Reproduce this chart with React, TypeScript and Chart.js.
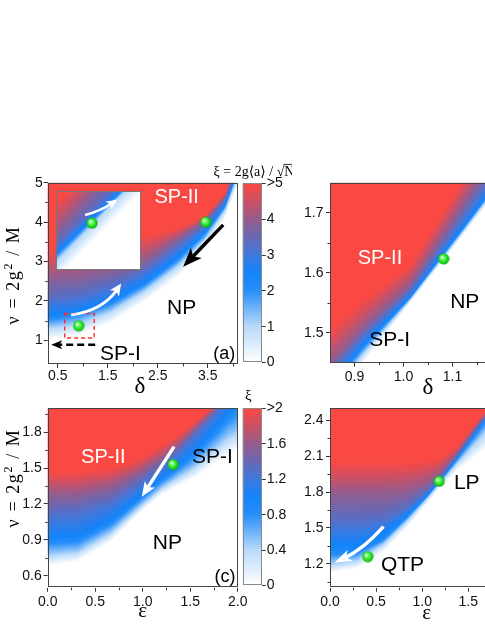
import React, { useEffect, useRef } from 'react';
import { Chart, registerables } from 'chart.js';
Chart.register(...registerables);

// ---------------- colour map (fraction of colour-bar range -> rgb) ----------------
const cmapStops = [0, 0.2, 0.4, 0.5, 0.6, 0.7, 0.8, 0.9, 1];
const cmapColors = [
  [255, 255, 255], [185, 218, 250], [40, 142, 250], [18, 132, 250], [62, 120, 222],
  [105, 104, 180], [150, 92, 140], [205, 80, 100], [250, 72, 66],
];

// ---------------- panel (a): delta vs nu, xi up to 5 ----------------
const aTicksX = [0.5, 1.5, 2.5, 3.5];
const aMinorX = [1, 2, 3, 4];
const aTicksY = [1, 2, 3, 4, 5];
const aMinorY = [1.5, 2.5, 3.5, 4.5];
const aXi = [0, 1, 2.5, 3.3, 4, 5];
const aX = [0.2, 0.9, 1.57, 2.24, 2.91, 3.45, 3.85, 4.2];
const aL0 = [1.0, 1.1, 1.45, 1.98, 2.62, 3.32, 4.1, 5.3];
const aL1 = [1.28, 1.38, 1.72, 2.24, 2.88, 3.56, 4.3, 5.5];
const aL2 = [1.62, 1.74, 2.02, 2.48, 3.12, 3.76, 4.45, 5.65];
const aL3 = [2.05, 2.15, 2.4, 2.78, 3.4, 3.93, 4.55, 5.8];
const aL4 = [2.6, 2.7, 2.85, 3.05, 3.6, 4.05, 4.65, 5.9];
const aL5 = [3.3, 3.4, 3.5, 3.65, 3.85, 4.15, 4.75, 6.0];
const aDots = [{ x: 0.92, y: 1.37 }, { x: 3.46, y: 4.0 }];
const aLabels = [
  { x: 2.88, y: 4.66, t: 'SP-II' }, { x: 2.98, y: 1.84, t: 'NP' },
  { x: 1.755, y: 0.68, t: 'SP-I' }, { x: 3.83, y: 0.68, t: '(a)' },
];
const aArrowCurve = [[0.77, 1.64], [1.4, 1.76], [1.77, 2.44]];
const aArrowBlack = [[3.81, 3.93], [3.01, 2.87]];
const aArrowDash = [[1.25, 0.89], [0.37, 0.89]];
const aBox = [0.64, 1.06, 1.23, 1.68];

// inset of (a) (normalised coordinates)
const iX = [-0.1, 1.1];
const iXi = [0, 1, 2.5, 3.3, 4, 5];
const iL0 = [-0.231, 1.089];
const iL1 = [-0.01, 1.31];
const iL2 = [0.112, 1.36];
const iL3 = [0.2, 1.45];
const iL4 = [0.38, 1.81];
const iL5 = [0.76, 1.96];
const iDots = [{ x: 0.424, y: 0.593 }];
const iArrow = [[0.343, 0.695], [0.53, 0.75], [0.721, 0.893]];

// colour bars
const cbATicks = [0, 1, 2, 3, 4, 5];
const cbCTicks = [0, 0.4, 0.8, 1.2, 1.6, 2.0];

// ---------------- panel (b) ----------------
const bTicksX = [0.9, 1.0, 1.1, 1.2];
const bMinorX = [0.95, 1.05, 1.15];
const bTicksY = [1.5, 1.6, 1.7];
const bMinorY = [1.55, 1.65];
const bXi = [0, 1, 2.5, 3.3, 4, 5];
const bX = [0.8, 0.918, 1.014, 1.11, 1.205, 1.25];
const bL0 = [1.327, 1.45, 1.55, 1.65, 1.75, 1.797];
const bL1 = [1.345, 1.464, 1.555, 1.656, 1.758, 1.806];
const bL2 = [1.367, 1.48, 1.56, 1.663, 1.766, 1.815];
const bL3 = [1.387, 1.495, 1.57, 1.68, 1.79, 1.841];
const bL4 = [1.407, 1.51, 1.581, 1.7, 1.818, 1.872];
const bL5 = [1.467, 1.555, 1.613, 1.74, 1.87, 1.927];
const bDots = [{ x: 1.082, y: 1.623 }];
const bLabels = [
  { x: 0.952, y: 1.626, t: 'SP-II' }, { x: 1.125, y: 1.552, t: 'NP' }, { x: 0.972, y: 1.489, t: 'SP-I' },
];

// ---------------- panel (c): epsilon vs nu, xi up to 2 ----------------
const cTicksX = [0, 0.5, 1.0, 1.5, 2.0];
const cMinorX = [0.25, 0.75, 1.25, 1.75];
const cTicksY = [0.6, 0.9, 1.2, 1.5, 1.8];
const cMinorY = [0.75, 1.05, 1.35, 1.65, 1.95];
const cXi = [0, 0.5, 1.0, 1.3, 1.6, 2.0];
const cX = [-0.05, 0.32, 0.67, 0.95, 1.2, 1.375, 1.55, 1.73, 1.9, 2.05];
const cL0 = [0.67, 0.72, 0.89, 1.11, 1.28, 1.35, 1.42, 1.52, 1.61, 1.68];
const cL1 = [0.78, 0.81, 0.97, 1.17, 1.34, 1.43, 1.52, 1.65, 1.77, 1.84];
const cL2 = [0.92, 0.93, 1.07, 1.25, 1.42, 1.53, 1.65, 1.81, 1.97, 2.1];
const cL3 = [1.11, 1.14, 1.22, 1.36, 1.51, 1.64, 1.78, 1.93, 2.08, 2.2];
const cL4 = [1.28, 1.29, 1.35, 1.46, 1.58, 1.69, 1.83, 1.97, 2.12, 2.25];
const cL5 = [1.47, 1.47, 1.5, 1.57, 1.69, 1.78, 1.89, 2.01, 2.15, 2.3];
const cDots = [{ x: 1.32, y: 1.53 }];
const cLabels = [
  { x: 0.585, y: 1.6, t: 'SP-II' }, { x: 1.735, y: 1.6, t: 'SP-I' },
  { x: 1.26, y: 0.88, t: 'NP' }, { x: 1.866, y: 0.6, t: '(c)' },
];
const cArrow = [[1.33, 1.68], [0.99, 1.26]];

// ---------------- panel (d) ----------------
const dTicksX = [0, 0.5, 1.0, 1.5, 2.0];
const dMinorX = [0.25, 0.75, 1.25, 1.75];
const dTicksY = [1.2, 1.5, 1.8, 2.1, 2.4];
const dMinorY = [1.05, 1.35, 1.65, 1.95, 2.25];
const dXi = [0, 0.4, 0.9, 1.3, 1.6, 2.0];
const dX = [-0.05, 0.29, 0.58, 0.83, 1.05, 1.185, 1.37, 1.55, 1.7, 1.8];
const dL0 = [1.12, 1.16, 1.3, 1.5, 1.7, 1.83, 1.97, 2.08, 2.16, 2.2];
const dL1 = [1.18, 1.22, 1.36, 1.55, 1.74, 1.865, 2.03, 2.18, 2.3, 2.37];
const dL2 = [1.3, 1.3, 1.41, 1.59, 1.765, 1.885, 2.07, 2.26, 2.42, 2.5];
const dL3 = [1.55, 1.55, 1.57, 1.66, 1.8, 1.905, 2.09, 2.28, 2.44, 2.53];
const dL4 = [1.8, 1.8, 1.8, 1.81, 1.87, 1.95, 2.12, 2.31, 2.46, 2.56];
const dL5 = [2.05, 2.05, 2.05, 2.05, 2.06, 2.08, 2.17, 2.35, 2.5, 2.6];
const dDots = [{ x: 0.41, y: 1.26 }, { x: 1.185, y: 1.89 }];
const dLabels = [{ x: 1.483, y: 1.88, t: 'LP' }, { x: 0.786, y: 1.194, t: 'QTP' }];
const dArrow = [[0.58, 1.51], [0.36, 1.32], [0.05, 1.21]];

// ---------------- helpers ----------------
const SANS = '"Liberation Sans", Arial, Helvetica, sans-serif';
const SERIF = '"Liberation Serif", "DejaVu Serif", "Times New Roman", serif';

function interp(xs: number[], ys: number[], x: number) {
  const n = xs.length;
  let i = 0;
  if (x <= xs[0]) i = 0;
  else if (x >= xs[n - 1]) i = n - 2;
  else while (x > xs[i + 1]) i++;
  const t = (x - xs[i]) / (xs[i + 1] - xs[i]);
  return ys[i] + t * (ys[i + 1] - ys[i]);
}
function cmap(f: number) {
  f = Math.max(0, Math.min(1, f));
  let i = 0;
  while (i < cmapStops.length - 2 && f > cmapStops[i + 1]) i++;
  const t = (f - cmapStops[i]) / (cmapStops[i + 1] - cmapStops[i]);
  const a = cmapColors[i], b = cmapColors[i + 1];
  return [a[0] + t * (b[0] - a[0]), a[1] + t * (b[1] - a[1]), a[2] + t * (b[2] - a[2])];
}
function xiAt(Y: number, ys: number[], xis: number[]) {
  if (Y <= ys[0]) return 0;
  const n = ys.length;
  if (Y >= ys[n - 1]) return xis[n - 1];
  let k = 0;
  while (Y > ys[k + 1]) k++;
  const d = ys[k + 1] - ys[k];
  const t = d > 1e-9 ? (Y - ys[k]) / d : 1;
  return xis[k] + t * (xis[k + 1] - xis[k]);
}

function drawHeat(chart: any, heat: any) {
  const { ctx, chartArea: ca } = chart;
  const sx = chart.scales.x, sy = chart.scales.y;
  const L = Math.floor(ca.left), T = Math.floor(ca.top);
  const W = Math.ceil(ca.right) - L, H = Math.ceil(ca.bottom) - T;
  const off = document.createElement('canvas');
  off.width = W; off.height = H;
  const octx = off.getContext('2d')!;
  const img = octx.createImageData(W, H);
  const Ys: number[] = [];
  for (let j = 0; j < H; j++) Ys.push(sy.getValueForPixel(T + j + 0.5));
  for (let i = 0; i < W; i++) {
    let ly: number[] | null = null;
    if (heat.levels) {
      const X = sx.getValueForPixel(L + i + 0.5);
      ly = heat.levels.map((l: number[]) => interp(heat.X, l, X));
      for (let k = 1; k < ly!.length; k++) if (ly![k] < ly![k - 1]) ly![k] = ly![k - 1];
    }
    for (let j = 0; j < H; j++) {
      const v = ly ? xiAt(Ys[j], ly, heat.xis) : Ys[j];
      const c = cmap(v / heat.max);
      const o = (j * W + i) * 4;
      img.data[o] = c[0]; img.data[o + 1] = c[1]; img.data[o + 2] = c[2]; img.data[o + 3] = 255;
    }
  }
  octx.putImageData(img, 0, 0);
  ctx.save();
  ctx.beginPath();
  ctx.rect(ca.left, ca.top, ca.right - ca.left, ca.bottom - ca.top);
  ctx.clip();
  ctx.drawImage(off, L, T);
  ctx.restore();
}

function drawArrow(ctx: any, pts: number[][], color: string, lw: number, hl: number, hw: number, dash?: number[]) {
  const tip = pts[pts.length - 1], prev = pts[pts.length - 2];
  let dx = tip[0] - prev[0], dy = tip[1] - prev[1];
  const d = Math.hypot(dx, dy); dx /= d; dy /= d;
  const bx = tip[0] - dx * hl, by = tip[1] - dy * hl;
  ctx.save();
  ctx.strokeStyle = color; ctx.fillStyle = color; ctx.lineWidth = lw; ctx.lineCap = 'butt';
  ctx.setLineDash(dash || []);
  ctx.beginPath();
  ctx.moveTo(pts[0][0], pts[0][1]);
  const ex = bx + dx * hl * 0.35, ey = by + dy * hl * 0.35;
  if (pts.length === 3) ctx.quadraticCurveTo(pts[1][0], pts[1][1], ex, ey);
  else ctx.lineTo(ex, ey);
  ctx.stroke();
  ctx.setLineDash([]);
  ctx.beginPath();
  ctx.moveTo(tip[0], tip[1]);
  ctx.lineTo(bx - dy * hw / 2, by + dx * hw / 2);
  ctx.lineTo(bx + dx * hl * 0.25, by + dy * hl * 0.25);
  ctx.lineTo(bx + dy * hw / 2, by - dx * hw / 2);
  ctx.closePath();
  ctx.fill();
  ctx.restore();
}

type Part = { t: string; size: number; dy?: number; over?: boolean };
function drawRich(ctx: any, parts: Part[], cx: number, cy: number, rot: number, spacing: number) {
  ctx.save();
  ctx.translate(cx, cy);
  if (rot) ctx.rotate(rot);
  ctx.letterSpacing = spacing + 'px';
  let total = 0;
  const ws = parts.map((p) => { ctx.font = `${p.size}px ${SERIF}`; const w = ctx.measureText(p.t).width; total += w; return w; });
  let x = -total / 2;
  const base = parts[0].size * 0.33;
  ctx.fillStyle = '#000'; ctx.textAlign = 'left'; ctx.textBaseline = 'alphabetic';
  parts.forEach((p, i) => {
    ctx.font = `${p.size}px ${SERIF}`;
    ctx.fillText(p.t, x, base + (p.dy || 0));
    if (p.over) {
      ctx.strokeStyle = '#000'; ctx.lineWidth = 0.8;
      ctx.beginPath();
      ctx.moveTo(x - 1, base - p.size * 0.8);
      ctx.lineTo(x + ws[i] - spacing, base - p.size * 0.8);
      ctx.stroke();
    }
    x += ws[i];
  });
  ctx.letterSpacing = '0px';
  ctx.restore();
}

function makeBall() {
  const c = document.createElement('canvas');
  c.width = 12; c.height = 12;
  const g = c.getContext('2d')!;
  const grd = g.createRadialGradient(4.4, 4.2, 0.4, 6, 6, 6);
  grd.addColorStop(0, '#f2fff2');
  grd.addColorStop(0.25, '#70ff70');
  grd.addColorStop(0.7, '#1ad81a');
  grd.addColorStop(1, '#0c9c0c');
  g.fillStyle = grd;
  g.beginPath(); g.arc(6, 6, 5.6, 0, Math.PI * 2); g.fill();
  return c;
}

// ---------------- chart builder ----------------
function buildConfig(p: any, ball: HTMLCanvasElement) {
  const [cl, ct, cw, ch] = p.canvas;
  const [al, at, ar, ab] = p.area;
  const tickFont = { family: SANS, size: 14 };
  const plugin = {
    id: 'panelDeco',
    beforeDatasetsDraw(chart: any) {
      const { ctx } = chart;
      const sx = chart.scales.x, sy = chart.scales.y;
      if (p.heat) drawHeat(chart, p.heat);
      const X = (v: number) => sx.getPixelForValue(v);
      const Y = (v: number) => sy.getPixelForValue(v);
      (p.boxes || []).forEach((b: number[]) => {
        ctx.save();
        ctx.strokeStyle = '#ff2a2a'; ctx.lineWidth = 1.4; ctx.setLineDash([4, 3]);
        ctx.strokeRect(X(b[0]), Y(b[3]), X(b[2]) - X(b[0]), Y(b[1]) - Y(b[3]));
        ctx.restore();
      });
      (p.arrows || []).forEach((a: any) => {
        drawArrow(ctx, a.pts.map((q: number[]) => [X(q[0]), Y(q[1])]), a.color, a.lw, a.hl, a.hw, a.dash);
      });
      (p.labels || []).forEach((l: any) => {
        ctx.save();
        const isTag = l.t.startsWith('(');
        ctx.font = `${isTag ? 18 : l.t === 'SP-II' ? 20 : 21}px ${SANS}`;
        ctx.fillStyle = l.t === 'SP-II' ? '#ffffff' : '#000000';
        ctx.textAlign = 'center'; ctx.textBaseline = 'middle';
        ctx.fillText(l.t, X(l.x), Y(l.y) + 1);
        ctx.restore();
      });
    },
    afterDraw(chart: any) {
      const { ctx, chartArea: ca } = chart;
      const sx = chart.scales.x, sy = chart.scales.y;
      ctx.save();
      ctx.strokeStyle = '#333'; ctx.lineWidth = 1;
      (p.xMinor || []).forEach((v: number) => {
        const px = Math.round(sx.getPixelForValue(v)) + 0.5;
        ctx.beginPath(); ctx.moveTo(px, ca.bottom); ctx.lineTo(px, ca.bottom + 2.5); ctx.stroke();
      });
      (p.yMinor || []).forEach((v: number) => {
        const py = Math.round(sy.getPixelForValue(v)) + 0.5;
        ctx.beginPath(); ctx.moveTo(ca.left - 2.5, py); ctx.lineTo(ca.left, py); ctx.stroke();
      });
      ctx.strokeStyle = p.frameColor || '#444';
      ctx.strokeRect(Math.round(ca.left) + 0.5, Math.round(ca.top) + 0.5, Math.round(ca.right - ca.left) - 1, Math.round(ca.bottom - ca.top) - 1);
      ctx.restore();
      (p.titles || []).forEach((tt: any) => drawRich(ctx, tt.parts, tt.x - cl, tt.y - ct, tt.rot || 0, tt.sp || 0));
      // x tick labels, placed by the x scale (drawn last)
      if (p.xTicks && !p.hideAxes && !p.cbar) {
        ctx.save();
        ctx.letterSpacing = '0px';
        ctx.font = `14px ${SANS}`;
        ctx.fillStyle = '#111';
        ctx.textAlign = 'center';
        ctx.textBaseline = 'top';
        p.xTicks.forEach((v: number) => {
          ctx.fillText(p.xFmt(v), sx.getPixelForValue(v), ca.bottom + p.xLabelOff);
        });
        ctx.restore();
      }
    },
  };
  const hide = !!p.hideAxes;
  const axisCommon = (ticks: number[], fmt: any, pad: number, showLabels: boolean) => ({
    type: 'linear',
    afterBuildTicks: (s: any) => { s.ticks = ticks.map((v) => ({ value: v })); },
    ticks: { display: showLabels, callback: (v: any) => fmt(Number(v)), font: tickFont, color: '#111', padding: pad, autoSkip: false, maxRotation: 0 },
    grid: { display: true, drawOnChartArea: false, drawTicks: true, tickLength: 4, tickColor: '#333', tickWidth: 1 },
    border: { display: false },
  });
  let scales: any;
  if (p.cbar) {
    scales = {
      x: { type: 'linear', display: false, min: 0, max: 1 },
      y: {
        ...axisCommon(p.yTicks, p.yFmt, 1, true), position: 'right', min: p.y[0], max: p.y[1],
        afterFit: (s: any) => { s.width = cl + cw - ar; },
      },
    };
  } else {
    scales = {
      x: {
        ...axisCommon(p.xTicks || [], p.xFmt, 0, false), min: p.x[0], max: p.x[1], display: !hide,
        afterFit: (s: any) => { s.height = ct + ch - ab; },
      },
      y: {
        ...axisCommon(p.yTicks || [], p.yFmt, p.yPad, true), min: p.y[0], max: p.y[1], display: !hide,
        afterFit: (s: any) => { s.width = al - cl; },
      },
    };
  }
  const padding = p.cbar
    ? { left: al - cl, top: at - ct, right: 0, bottom: ct + ch - ab }
    : hide
      ? { left: al - cl, top: at - ct, right: cl + cw - ar, bottom: ct + ch - ab }
      : { left: 0, top: at - ct, right: cl + cw - ar, bottom: 0 };
  return {
    type: 'scatter',
    data: {
      datasets: [{
        data: p.dots || [],
        pointStyle: ball,
        pointRadius: 6,
        showLine: false,
      }],
    },
    options: {
      responsive: false,
      animation: false,
      devicePixelRatio: 1,
      events: [],
      layout: { padding },
      plugins: { legend: { display: false }, tooltip: { enabled: false } },
      scales,
    },
    plugins: [plugin],
  };
}

const f1 = (v: number) => v.toFixed(1);
const nuTitle = (x: number, y: number) => ({
  x, y, rot: -Math.PI / 2, sp: 1.6,
  parts: [{ t: 'ν = 2g', size: 18 }, { t: '2', size: 12, dy: -7 }, { t: ' / M', size: 18 }],
});

function buildPanels() {
  const whiteArrow = { color: '#ffffff', lw: 3, hl: 12, hw: 11 };
  return [
    {
      z: 5,
      canvas: [0, 140, 262, 260], area: [47.7, 182.7, 237.7, 364],
      x: [0.3, 4.1], y: [0.4, 5],
      xTicks: aTicksX, yTicks: aTicksY, xMinor: aMinorX, yMinor: aMinorY,
      xFmt: f1, yFmt: (v: number) => String(v), xLabelOff: 5, yPad: 1,
      heat: { X: aX, levels: [aL0, aL1, aL2, aL3, aL4, aL5], xis: aXi, max: 5 },
      dots: aDots, labels: aLabels, boxes: [aBox],
      arrows: [
        { pts: aArrowCurve, ...whiteArrow },
        { pts: aArrowBlack, color: '#000', lw: 3.4, hl: 19, hw: 15 },
        { pts: aArrowDash, color: '#000', lw: 2.6, hl: 11, hw: 9, dash: [7, 4] },
      ],
      titles: [nuTitle(13.5, 275), { x: 140, y: 385, parts: [{ t: 'δ', size: 23 }] }],
    },
    {
      z: 6,
      canvas: [49, 184, 99, 93], area: [49, 184, 148, 277], hideAxes: true,
      x: [0, 1], y: [0, 1], frameColor: '#777',
      heat: { X: iX, levels: [iL0, iL1, iL2, iL3, iL4, iL5], xis: iXi, max: 5 },
      dots: iDots,
      arrows: [{ pts: iArrow, color: '#ffffff', lw: 2.6, hl: 11, hw: 10 }],
    },
    {
      z: 1,
      canvas: [200, 150, 92, 222], area: [242.7, 183.3, 261.7, 362.7], cbar: true,
      y: [0, 5], yTicks: cbATicks, yFmt: (v: number) => (v === 5 ? '>5' : String(v)),
      heat: { max: 5 }, frameColor: '#888',
      titles: [{ x: 254, y: 171, parts: [{ t: 'ξ = 2g⟨a⟩ / √', size: 14 }, { t: 'N', size: 14, over: true }] }],
    },
    {
      z: 1,
      canvas: [290, 140, 250, 260], area: [330, 182.7, 526, 362.7],
      x: [0.85, 1.25], y: [1.45, 1.75],
      xTicks: bTicksX, yTicks: bTicksY, xMinor: bMinorX, yMinor: bMinorY,
      xFmt: f1, yFmt: f1, xLabelOff: 7.5, yPad: 2.5,
      heat: { X: bX, levels: [bL0, bL1, bL2, bL3, bL4, bL5], xis: bXi, max: 5 },
      dots: bDots, labels: bLabels,
      titles: [{ x: 428, y: 386, parts: [{ t: 'δ', size: 23 }] }],
    },
    {
      z: 1,
      canvas: [0, 395, 262, 233], area: [47.7, 408.3, 237.7, 587.7],
      x: [0, 2], y: [0.5, 2.0],
      xTicks: cTicksX, yTicks: cTicksY, xMinor: cMinorX, yMinor: cMinorY,
      xFmt: f1, yFmt: f1, xLabelOff: 7.5, yPad: 2,
      heat: { X: cX, levels: [cL0, cL1, cL2, cL3, cL4, cL5], xis: cXi, max: 2 },
      dots: cDots, labels: cLabels,
      arrows: [{ pts: cArrow, color: '#ffffff', lw: 3.4, hl: 15, hw: 12 }],
      titles: [nuTitle(13.5, 478), { x: 142.7, y: 610, parts: [{ t: 'ε', size: 21 }] }],
    },
    {
      z: 1,
      canvas: [200, 380, 92, 215], area: [242.7, 408.3, 261.7, 588], cbar: true,
      y: [0, 2], yTicks: cbCTicks, yFmt: (v: number) => (v >= 2 ? '>2' : v === 0 ? '0' : v.toFixed(1)),
      heat: { max: 2 }, frameColor: '#888',
      titles: [{ x: 248.3, y: 395, parts: [{ t: 'ξ', size: 15 }] }],
    },
    {
      z: 1,
      canvas: [290, 395, 250, 233], area: [330, 408.3, 523.6, 587.7],
      x: [0, 2.1], y: [1.0, 2.5],
      xTicks: dTicksX, yTicks: dTicksY, xMinor: dMinorX, yMinor: dMinorY,
      xFmt: f1, yFmt: f1, xLabelOff: 7.5, yPad: 2.5,
      heat: { X: dX, levels: [dL0, dL1, dL2, dL3, dL4, dL5], xis: dXi, max: 2 },
      dots: dDots, labels: dLabels,
      arrows: [{ pts: dArrow, color: '#ffffff', lw: 3.4, hl: 17, hw: 12 }],
      titles: [{ x: 426.7, y: 612, parts: [{ t: 'ε', size: 21 }] }],
    },
  ];
}

const PANELS = buildPanels();

export default function App() {
  const refs = useRef<(HTMLCanvasElement | null)[]>([]);
  useEffect(() => {
    const ball = makeBall();
    const charts = PANELS.map((p, i) => new Chart(refs.current[i] as HTMLCanvasElement, buildConfig(p, ball) as any));
    return () => charts.forEach((c) => c.destroy());
  }, []);
  return (
    <div style={{ position: 'fixed', left: 0, top: 0, width: 485, height: 628, overflow: 'hidden', background: '#fff' }}>
      {PANELS.map((p: any, i) => (
        <canvas
          key={i}
          ref={(el) => { refs.current[i] = el; }}
          width={p.canvas[2]}
          height={p.canvas[3]}
          style={{ position: 'absolute', left: p.canvas[0], top: p.canvas[1], width: p.canvas[2], height: p.canvas[3], zIndex: p.z }}
        />
      ))}
    </div>
  );
}
